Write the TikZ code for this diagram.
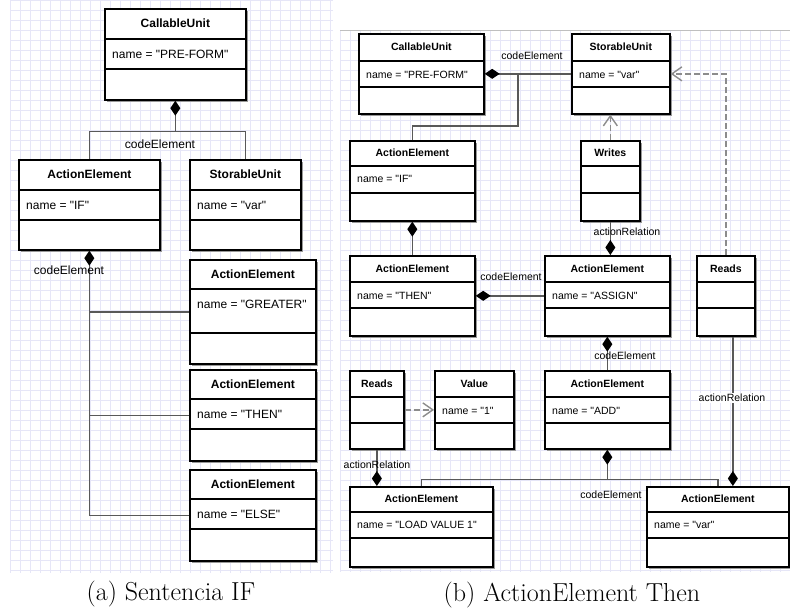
\documentclass[tikz,border=0pt]{standalone}
\usepackage{fontspec}
\setsansfont{Liberation Sans}[Ligatures=TeXOff]
\usetikzlibrary{arrows.meta}

\newcommand{\panelfont}{\fontsize{12}{14}\selectfont}
% class box: name, x, y (top left), width, part heights, title, attribute
\newcommand{\umlclass}[9]{%
  \fill[black!40] (#2+3,#3+3) rectangle ++(#4,#5+#6+#7);
  \node[classbox, anchor=north west, minimum width=#4, minimum height=#5+#6+#7] (#1) at (#2,#3) {};
  \draw[classline] ([yshift=-#5]#1.north west) -- ([yshift=-#5]#1.north east);
  \draw[classline] ([yshift={-(#5+#6)}]#1.north west) -- ([yshift={-(#5+#6)}]#1.north east);
  \node[classtitle] (#1-title) at ([yshift={-#5/2}]#1.north) {#8};
  \node[classattr] (#1-attr) at ([xshift=8, yshift={-#5-#5/2}]#1.north west) {#9};
}

\definecolor{gridblue}{RGB}{230,230,247}

\begin{document}
\begin{tikzpicture}
  [x=1pt,y=-1pt,
   classbox/.style={draw,fill=white,line width=1.7pt,inner sep=0pt},
   classline/.style={line width=1.7pt},
   classtitle/.style={font=\sffamily\bfseries\panelfont,inner sep=0pt},
   classattr/.style={font=\sffamily\panelfont,anchor=west,inner sep=0pt},
   rolelabel/.style={font=\sffamily\panelfont,inner sep=1pt},
   assoc/.style={draw=black!65,line width=1.5pt},
   comp/.style={assoc,-{Diamond[length=15pt,width=10pt,color=black]}},
   dep/.style={draw=black!45,line width=1.4pt,dash pattern=on 6pt off 3pt,
     -{Straight Barb[length=10pt,width=14pt]}},
   gridline/.style={draw=gridblue,line width=0.6pt},
   caption/.style={font=\fontsize{26}{30}\selectfont}]

  \useasboundingbox (0,0) rectangle (790,610);

  % grids
  \foreach \i in {10,20,...,330}
    \draw[gridline] (\i,0) -- (\i,573);
  \foreach \j in {0,10,...,570}
    \draw[gridline] (10,\j) -- (333,\j);
  \foreach \i in {340,350,...,790}
    \draw[gridline] (\i,30) -- (\i,572);
  \foreach \j in {30,40,...,570}
    \draw[gridline] (340,\j) -- (790,\j);
  \draw[black!25] (340,30) -- (790,30);

  % (a)
  \umlclass{cuA}{104}{8}{141}{31}{30}{30}{CallableUnit}{name = "PRE-FORM"}
  \umlclass{ifA}{18}{159}{141}{31}{30}{29}{ActionElement}{name = "IF"}
  \umlclass{suA}{189}{159}{111}{31}{30}{29}{StorableUnit}{name = "var"}
  \umlclass{greaterA}{189}{259}{126}{30}{44}{30}{ActionElement}{name = "GREATER"}
  \umlclass{thenA}{189}{369}{126}{30}{30}{31}{ActionElement}{name = "THEN"}
  \umlclass{elseA}{189}{469}{126}{30}{30}{31}{ActionElement}{name = "ELSE"}

  \coordinate (jA) at ([yshift=-31pt]cuA.south);
  \draw[comp] (ifA.north) |- (jA) -- (cuA.south);
  \draw[assoc] (suA.north) |- (jA);
  \node[rolelabel] (ceA1) at (160,144) {codeElement};
  \draw[comp] (elseA.west) -| (ifA.south);
  \foreach \n in {greaterA,thenA}
    \draw[assoc] (\n.west) -- (\n.west -| ifA.south);
  \node[rolelabel] (ceA2) at (69,270) {codeElement};

  \node[caption] (capA) at (171,594) {(a) Sentencia IF};

  % (b)
  \renewcommand{\panelfont}{\fontsize{10.5}{12}\selectfont}
  \umlclass{cuB}{358}{33}{125}{28}{26}{26}{CallableUnit}{name = "PRE-FORM"}
  \umlclass{suB}{571}{33}{98}{28}{26}{26}{StorableUnit}{name = "var"}
  \umlclass{ifB}{349}{140}{125}{26}{27}{27}{ActionElement}{name = "IF"}
  \umlclass{writesB}{580}{140}{59}{26}{27}{27}{Writes}{}
  \umlclass{thenB}{349}{255}{125}{27}{26}{27}{ActionElement}{name = "THEN"}
  \umlclass{assignB}{544}{255}{125}{27}{26}{27}{ActionElement}{name = "ASSIGN"}
  \umlclass{readsB}{696}{255}{58}{27}{26}{27}{Reads}{}
  \umlclass{readsC}{349}{370}{54}{27}{26}{25}{Reads}{}
  \umlclass{valueB}{434}{370}{79}{27}{26}{25}{Value}{name = "1"}
  \umlclass{addB}{544}{370}{125}{27}{26}{25}{ActionElement}{name = "ADD"}
  \umlclass{loadB}{349}{486}{143}{26}{26}{28}{ActionElement}{name = "LOAD VALUE 1"}
  \umlclass{varB}{646}{486}{142}{26}{26}{28}{ActionElement}{name = "var"}

  \draw[comp] (suB.west) -- (cuB.east);
  \coordinate (kB) at (518,126);
  \draw[assoc] (ifB.north) |- (kB) -- (kB |- cuB.east);
  \node[rolelabel] (ceB1) at (532,56) {codeElement};
  \draw[comp] (thenB.north) -- (ifB.south);
  \draw[dep] (writesB.north) -- (writesB.north |- suB.south);
  \draw[dep] (readsB.north) |- (suB.east);
  \draw[comp] (writesB.south) -- (writesB.south |- assignB.north);
  \node[rolelabel] (arB1) at (627,232) {actionRelation};
  \draw[comp] (assignB.west) -- (thenB.east);
  \node[rolelabel] (ceB2) at (511,277) {codeElement};
  \draw[comp] ([xshift=7pt]readsB.south) -- ([xshift=7pt]readsB.south |- varB.north);
  \node[rolelabel,fill=white] (arB2) at (732,398) {actionRelation};
  \draw[comp] (addB.north) -- (assignB.south);
  \node[rolelabel] (ceB3) at (625,356) {codeElement};
  \draw[dep] (readsC.east) -- (valueB.west);
  \draw[comp] (readsC.south) -- (readsC.south |- loadB.north);
  \node[rolelabel] (arB3) at (377,465) {actionRelation};
  \coordinate (mB) at ([yshift=-30pt]addB.south);
  \draw[comp] (mB) -- (addB.south);
  \draw[assoc] (loadB.north) |- (mB) -| (varB.north);
  \node[rolelabel] (ceB4) at (611,495) {codeElement};

  \node[caption] (capB) at (572,595) {(b) ActionElement Then};
\end{tikzpicture}
\end{document}
